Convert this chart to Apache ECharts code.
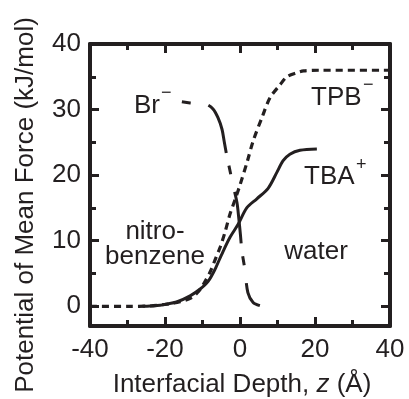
<!DOCTYPE html>
<html><head><meta charset="utf-8">
<script src="https://cdn.jsdelivr.net/npm/echarts@6/dist/echarts.min.js"></script>
<style>html,body{margin:0;padding:0;background:#fff}#c{width:409px;height:399px}</style>
</head><body><div id="c"></div>
<script>
// ---- data ----
const xTicks = [-40, -20, 0, 20, 40];
const yTicks = [0, 10, 20, 30, 40];
const yMinorTicks = [5, 15, 25, 35];

// TPB- (dotted)
const tpbZ   = [-40, -30, -24, -20, -16, -13, -11, -9.3, -8, -6.7, -5.3, -4, -2.7, -1.3, 0, 2, 3.5, 6, 8, 10.7, 12.5, 15, 17, 21, 40];
const tpbPMF = [0, 0, 0.05, 0.3, 0.7, 1.3, 2.3, 3.8, 5.2, 7.0, 9.0, 11.3, 14.0, 16.3, 18.5, 22.2, 25.2, 29, 31.8, 33.8, 35, 35.6, 35.9, 36, 36];

// TBA+ (solid)
const tbaZ   = [-26, -24, -21.3, -19, -16.9, -13.3, -10.7, -8.5, -6.7, -4.9, -2.7, -0.5, 1.8, 4.5, 7.5, 9.9, 11.5, 13.3, 16, 20.5];
const tbaPMF = [0, 0.05, 0.15, 0.4, 0.66, 1.6, 2.6, 3.8, 5.6, 7.9, 10.5, 12.5, 15, 16.4, 18, 20.5, 22.2, 23.2, 23.8, 24];

// Br- (dashed)
const brZ   = [-15.5, -13.3, -11, -9, -7.2, -5.9, -4.8, -4.2, -3.5, -2.9, -1.9, -0.8, -0.3, 0.1, 0.5, 1.3, 2.1, 3.5, 5.3];
const brPMF = [31.2, 31, 30.9, 30.8, 30.1, 28.8, 27, 25.1, 22.9, 21.3, 18.6, 15.8, 13.3, 11, 8.5, 5.6, 2.1, 0.6, 0.1];

const zip = (a, b) => a.map((v, i) => [v, b[i]]);

// ---- styling ----
const black = '#231f20';
const FONT = '"Liberation Sans", Arial, Helvetica, sans-serif';
const FS = 26;

// each visible axis sits "on zero" of a hidden helper axis whose zero lies on the frame edge
function lineOn(idx, show) {
  return { show: show, onZero: true, onZeroAxisIndex: idx, lineStyle: { color: black, width: 4 } };
}
function xAx(pos, labels, helper) {
  return {
    type: 'value', position: pos, min: xTicks[0], max: xTicks[xTicks.length - 1], interval: 20,
    axisLine: lineOn(helper, true),
    axisTick: { show: true, inside: true, length: 9, lineStyle: { color: black, width: 3 } },
    minorTick: { show: true, splitNumber: 2, length: 6, lineStyle: { color: black, width: 3 } },
    splitLine: { show: false }, minorSplitLine: { show: false },
    axisLabel: { show: labels, margin: 11, color: black, fontSize: FS, fontFamily: FONT }
  };
}
function yAx(pos, vals, len, labels, helper, line) {
  return {
    type: 'value', position: pos, min: -3, max: 40,
    axisLine: lineOn(helper, line),
    axisTick: { show: true, inside: true, length: len, customValues: vals, lineStyle: { color: black, width: 3 } },
    splitLine: { show: false },
    axisLabel: { show: labels, customValues: vals, margin: 9, color: black, fontSize: FS, fontFamily: FONT }
  };
}
function helperAx(pos, lo, hi) {
  return { type: 'value', position: pos, min: lo, max: hi, show: false,
           axisLine: { show: false, onZero: false }, axisTick: { show: false },
           axisLabel: { show: false }, splitLine: { show: false } };
}
function txt(x, y, s, align, size, extra) {
  return Object.assign({
    type: 'text', x: x, y: y, silent: true,
    style: { text: s, font: (size || FS) + 'px ' + FONT, fill: black,
      align: align || 'left', textAlign: align || 'left', verticalAlign: 'middle', textVerticalAlign: 'middle' }
  }, extra || {});
}

const chart = echarts.init(document.getElementById('c'));
chart.setOption({
  animation: false,
  grid: { left: 90, right: 19, top: 44, bottom: 73 },
  xAxis: [
    xAx('bottom', true, 2), xAx('top', false, 3),
    helperAx('bottom', 0, 1), helperAx('top', -1, 0)
  ],
  yAxis: [
    yAx('left', yTicks, 9, true, 2, true), yAx('right', yTicks, 9, false, 3, true),
    helperAx('left', 0, 1), helperAx('right', -1, 0),
    yAx('left', yMinorTicks, 6, false, 2, false), yAx('right', yMinorTicks, 6, false, 3, false)
  ],
  series: [
    { type: 'line', name: 'TPB-', xAxisIndex: 0, yAxisIndex: 0, data: zip(tpbZ, tpbPMF), showSymbol: false, smooth: 0.3,
      lineStyle: { color: black, width: 3.2, type: [7, 5] } },
    { type: 'line', name: 'TBA+', xAxisIndex: 0, yAxisIndex: 0, data: zip(tbaZ, tbaPMF), showSymbol: false, smooth: 0.3,
      lineStyle: { color: black, width: 3, type: 'solid' } },
    { type: 'line', name: 'Br-', xAxisIndex: 0, yAxisIndex: 0, data: zip(brZ, brPMF), showSymbol: false, smooth: 0.3,
      lineStyle: { color: black, width: 3, type: [9, 18, 52, 13] } }
  ],
  graphic: [
    txt(26, 205, 'Potential of Mean Force (kJ/mol)', 'center', FS, { rotation: Math.PI / 2 }),
    { type: 'text', x: 242, y: 385, silent: true,
      style: { text: '{n|Interfacial Depth, }{i|z}{n| (Å)}', fill: black,
        align: 'center', textAlign: 'center', verticalAlign: 'middle', textVerticalAlign: 'middle',
        rich: { n: { fontSize: FS, fontFamily: FONT, fill: black, color: black },
                i: { fontSize: FS, fontFamily: FONT, fontStyle: 'italic', fill: black, color: black } } } },
    txt(134, 106, 'Br'), txt(161, 93, '\u2212', 'left', 18),
    txt(311, 98, 'TPB'), txt(363, 85, '\u2212', 'left', 18),
    txt(304, 177, 'TBA'), txt(356, 165, '+', 'left', 18),
    txt(155, 232, 'nitro-', 'center'), txt(155, 257, 'benzene', 'center'),
    txt(316, 252, 'water', 'center')
  ]
});
</script>
</body></html>
